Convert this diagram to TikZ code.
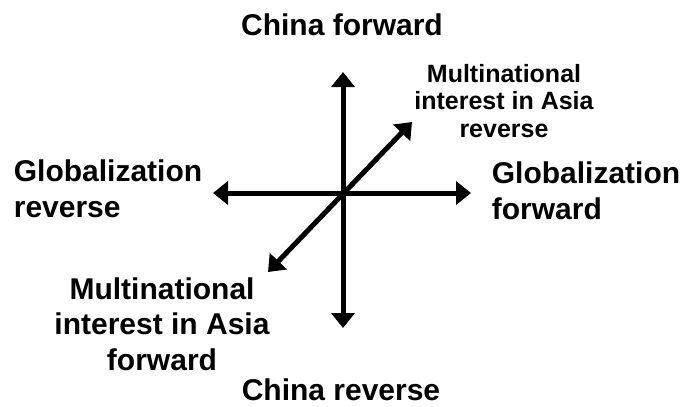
\documentclass[tikz,border=0pt]{standalone}
\usepackage{fontspec}
\setmainfont{Liberation Sans}
\usetikzlibrary{arrows.meta}
\tikzset{
  axis/.style={line width=5bp,{Triangle[length=15bp,width=23bp]}-{Triangle[length=15bp,width=23bp]}},
  biglabel/.style={font=\bfseries\fontsize{30bp}{35.5bp}\selectfont,inner sep=0pt,anchor=base},
  smalllabel/.style={font=\bfseries\fontsize{25bp}{27.5bp}\selectfont,inner sep=0pt,anchor=base}
}
\begin{document}
\begin{tikzpicture}[x=1bp,y=-1bp]
            \useasboundingbox (0,0) rectangle (686,406);
            % axis ends
            \coordinate (cn fwd) at (343,72);
            \coordinate (cn rev) at (343,328);
            \coordinate (gl rev) at (213,193);
            \coordinate (gl fwd) at (471,193);
            \coordinate (mn rev) at (412,122);
            \coordinate (mn fwd) at (268,272);
            \draw[axis] (cn rev) -- (cn fwd);
            \draw[axis] (gl rev) -- (gl fwd);
            \draw[axis] (mn fwd) -- (mn rev);
            % labels (base = last line)
            \node[biglabel] (cnfwd) at (342,35) {China forward};
            \node[biglabel] (cnrev) at (341,400) {China reverse};
            \node[biglabel,align=left] (glrev) at (108,217) {Globalization\\reverse};
            \node[biglabel,align=left] (glfwd) at (586,219) {Globalization\\forward};
            \node[biglabel,align=center] (mnfwd) at (162,370) {Multinational\\interest in Asia\\forward};
            \node[smalllabel,align=center] (mnrev) at (504,137) {Multinational\\interest in Asia\\reverse};
\end{tikzpicture}
\end{document}
